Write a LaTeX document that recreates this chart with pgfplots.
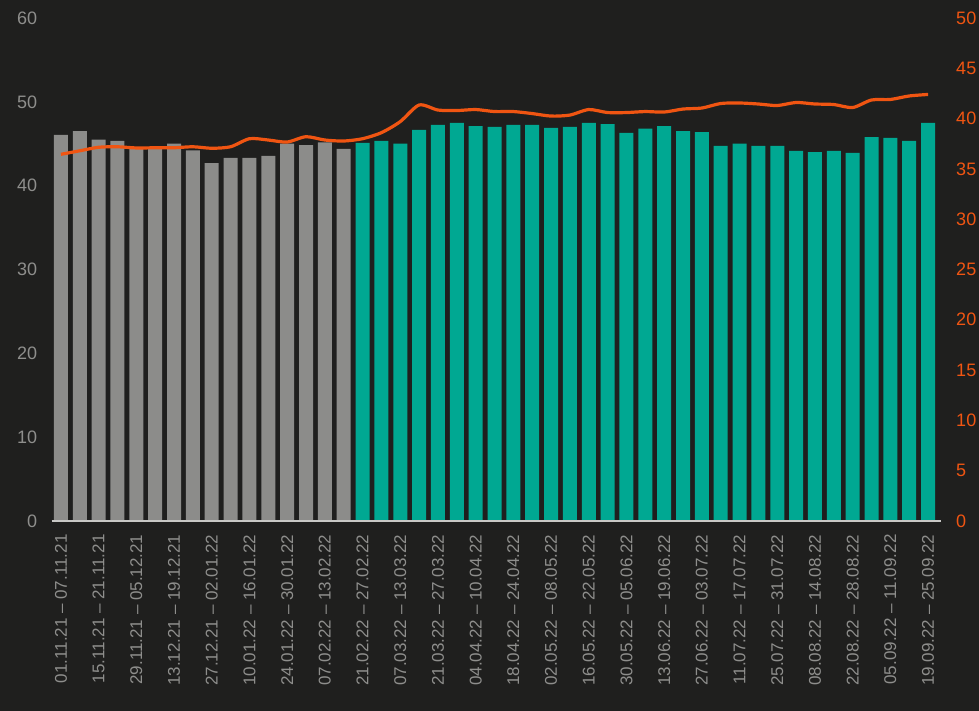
\documentclass[border=0pt]{standalone}
\usepackage{pgfplots}
\pgfplotsset{compat=1.18}
\usepackage{fontspec}
\setmainfont{Liberation Sans}
\definecolor{bg}{HTML}{1F1F1E}
\definecolor{gbar}{HTML}{8C8C8A}
\definecolor{tbar}{HTML}{00A892}
\definecolor{orng}{HTML}{F05512}
\definecolor{lbl}{HTML}{8E8E8C}
\definecolor{axl}{HTML}{C8C8C6}
\begin{document}
\begin{tikzpicture}
\fill[bg] (-51.7pt,-190pt) rectangle (927.3pt,521pt);
\begin{axis}[
  at={(0,0)}, anchor=south west, scale only axis,
  width=889pt, height=503pt,
  xmin=-0.49, xmax=46.67, ymin=0, ymax=60,
  axis x line*=bottom, axis y line*=left,
  x axis line style={draw=axl, line width=1.8pt, -},
  y axis line style={draw=none},
  ytick={0,10,...,60},
  xtick={0,2,...,46},
  xticklabels={01.11.21 \textendash{} 07.11.21, 15.11.21 \textendash{} 21.11.21, 29.11.21 \textendash{} 05.12.21, 13.12.21 \textendash{} 19.12.21, 27.12.21 \textendash{} 02.01.22, 10.01.22 \textendash{} 16.01.22, 24.01.22 \textendash{} 30.01.22, 07.02.22 \textendash{} 13.02.22, 21.02.22 \textendash{} 27.02.22, 07.03.22 \textendash{} 13.03.22, 21.03.22 \textendash{} 27.03.22, 04.04.22 \textendash{} 10.04.22, 18.04.22 \textendash{} 24.04.22, 02.05.22 \textendash{} 08.05.22, 16.05.22 \textendash{} 22.05.22, 30.05.22 \textendash{} 05.06.22, 13.06.22 \textendash{} 19.06.22, 27.06.22 \textendash{} 03.07.22, 11.07.22 \textendash{} 17.07.22, 25.07.22 \textendash{} 31.07.22, 08.08.22 \textendash{} 14.08.22, 22.08.22 \textendash{} 28.08.22, 05.09.22 \textendash{} 11.09.22, 19.09.22 \textendash{} 25.09.22},
  major tick length=0pt,
  /pgf/number format/assume math mode=true,
  tick label style={font=\fontsize{18}{20}\selectfont, text=lbl},
  xticklabel style={rotate=90, anchor=east, xshift=-10pt, font=\fontsize{17}{19}\selectfont},
  yticklabel style={xshift=-11pt},
  ybar, bar width=14pt, bar shift=0pt,
  axis on top,
]
\addplot[fill=gbar, draw=none] coordinates {
(0,46.05) (1,46.5) (2,45.5) (3,45.35) (4,44.4) (5,44.4) (6,45.0) (7,44.2)
(8,42.7) (9,43.3) (10,43.3) (11,43.55) (12,45.0) (13,44.85) (14,45.15) (15,44.4)};
\addplot[fill=tbar, draw=none] coordinates {
(16,45.1) (17,45.35) (18,45.0) (19,46.65) (20,47.25) (21,47.5) (22,47.1) (23,47.0)
(24,47.25) (25,47.25) (26,46.9) (27,47.0) (28,47.5) (29,47.35) (30,46.3) (31,46.8)
(32,47.1) (33,46.5) (34,46.4) (35,44.75) (36,45.0) (37,44.75) (38,44.75) (39,44.15)
(40,44.0) (41,44.15) (42,43.9) (43,45.8) (44,45.7) (45,45.35) (46,47.5)};
\end{axis}
\begin{axis}[
  at={(0,0)}, anchor=south west, scale only axis,
  width=889pt, height=503pt,
  xmin=-0.49, xmax=46.67, ymin=0, ymax=50,
  axis y line*=right, axis x line=none,
  y axis line style={draw=none},
  ytick={0,5,...,50},
  major tick length=0pt,
  /pgf/number format/assume math mode=true,
  tick label style={font=\fontsize{18}{20}\selectfont, text=orng},
  yticklabel style={xshift=12pt},
]
\addplot[orng, line width=3.2pt, smooth, tension=0.45] coordinates {
(0,36.45) (1,36.8) (2,37.15) (3,37.2) (4,37.08) (5,37.1) (6,37.1) (7,37.2)
(8,37.05) (9,37.2) (10,38.0) (11,37.87) (12,37.67) (13,38.2) (14,37.87) (15,37.77)
(16,38.0) (17,38.6) (18,39.7) (19,41.35) (20,40.85) (21,40.8) (22,40.9) (23,40.7)
(24,40.7) (25,40.5) (26,40.25) (27,40.35) (28,40.9) (29,40.6) (30,40.6) (31,40.7)
(32,40.65) (33,40.95) (34,41.05) (35,41.5) (36,41.55) (37,41.45) (38,41.3) (39,41.6)
(40,41.45) (41,41.4) (42,41.1) (43,41.85) (44,41.9) (45,42.25) (46,42.4)};
\end{axis}
\pgfresetboundingbox
\useasboundingbox (-51.7pt,-190pt) rectangle (927.3pt,521pt);
\end{tikzpicture}
\end{document}
